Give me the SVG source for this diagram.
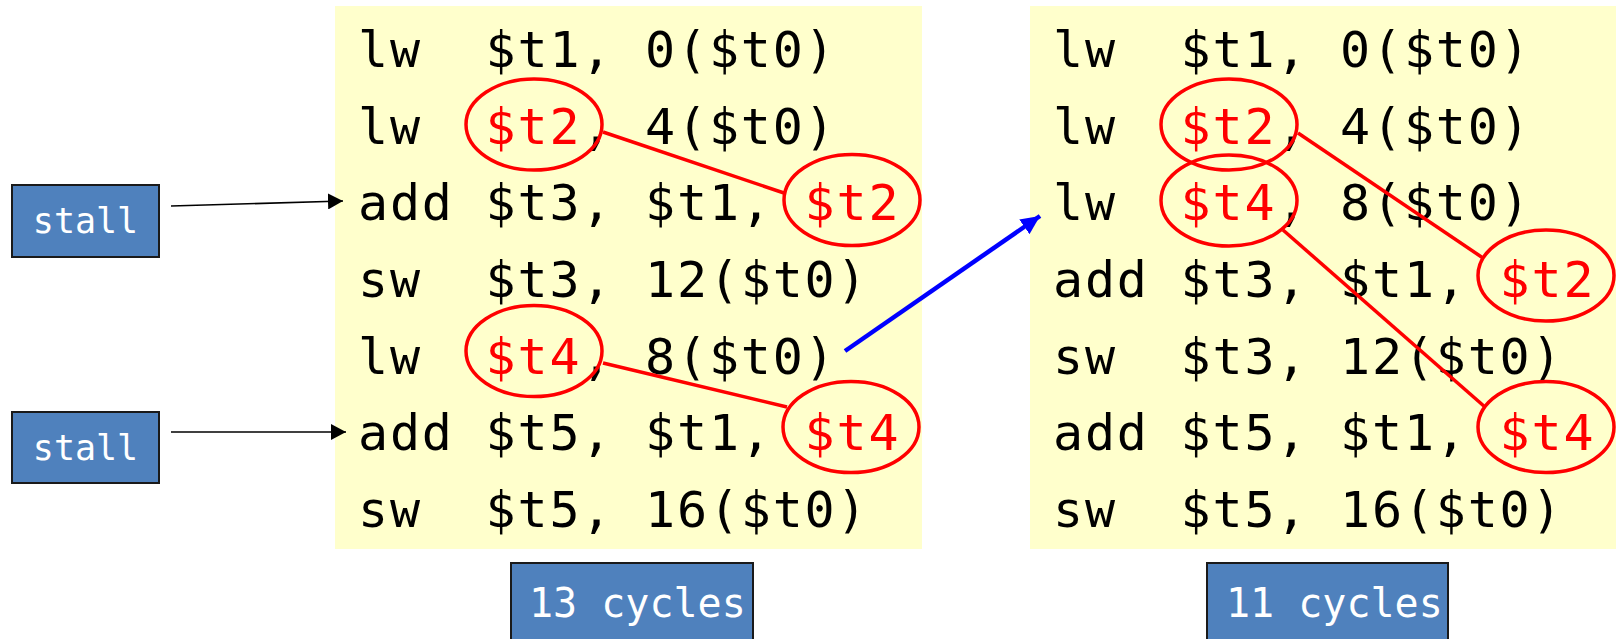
<svg xmlns="http://www.w3.org/2000/svg" width="1616" height="639" viewBox="0 0 1616 639">
  <style>
    .panel { fill: #FFFFCC; }
    .code { font-family: "DejaVu Sans Mono", "Liberation Mono", monospace; font-size: 50px; letter-spacing: 1.8px; fill: #000; }
    .reg { fill: #FF0000; }
    .ring { fill: none; stroke: #FF0000; stroke-width: 3.5; }
    .dep { stroke: #FF0000; stroke-width: 3.5; fill: none; }
    .box { fill: #4F81BD; stroke: #1A1A1A; stroke-width: 2; }
    .boxtext { font-family: "DejaVu Sans Mono", "Liberation Mono", monospace; fill: #FFFFFF; }
    .ptr { stroke: #000; stroke-width: 1.6; fill: none; }
    .move { stroke: #0000FF; stroke-width: 4.5; fill: none; }
  </style>
  <defs>
    <marker id="headBlack" markerUnits="userSpaceOnUse" markerWidth="16" markerHeight="16" refX="15" refY="8" orient="auto">
      <path d="M0,0 L15,8 L0,16 Z" fill="#000"/>
    </marker>
    <marker id="headBlue" markerUnits="userSpaceOnUse" markerWidth="20" markerHeight="18" refX="19" refY="9" orient="auto">
      <path d="M0,0 L19,9 L0,18 Z" fill="#0000FF"/>
    </marker>
  </defs>

  <!-- original schedule -->
  <g id="code-before">
    <rect class="panel" x="335" y="6" width="587" height="543"/>
    <text class="code" y="67"><tspan x="358">lw</tspan><tspan x="485.6">$t1,</tspan><tspan x="645.1">0($t0)</tspan></text>
    <text class="code" y="143.5"><tspan x="358">lw</tspan><tspan x="485.6" class="reg">$t2</tspan><tspan x="581.3">,</tspan><tspan x="645.1">4($t0)</tspan></text>
    <text class="code" y="220"><tspan x="358">add</tspan><tspan x="485.6">$t3,</tspan><tspan x="645.1">$t1,</tspan><tspan x="804.6" class="reg">$t2</tspan></text>
    <text class="code" y="297"><tspan x="358">sw</tspan><tspan x="485.6">$t3,</tspan><tspan x="645.1">12($t0)</tspan></text>
    <text class="code" y="373.5"><tspan x="358">lw</tspan><tspan x="485.6" class="reg">$t4</tspan><tspan x="581.3">,</tspan><tspan x="645.1">8($t0)</tspan></text>
    <text class="code" y="450"><tspan x="358">add</tspan><tspan x="485.6">$t5,</tspan><tspan x="645.1">$t1,</tspan><tspan x="804.6" class="reg">$t4</tspan></text>
    <text class="code" y="526.5"><tspan x="358">sw</tspan><tspan x="485.6">$t5,</tspan><tspan x="645.1">16($t0)</tspan></text>
    <ellipse class="ring" cx="534" cy="124.5" rx="68" ry="45.5"/>
    <ellipse class="ring" cx="852" cy="200" rx="68" ry="45.5"/>
    <ellipse class="ring" cx="534" cy="351" rx="68" ry="45.5"/>
    <ellipse class="ring" cx="851" cy="427" rx="68" ry="45.5"/>
  </g>

  <!-- reordered schedule -->
  <g id="code-after">
    <rect class="panel" x="1030" y="6" width="586" height="543"/>
    <text class="code" y="67"><tspan x="1053">lw</tspan><tspan x="1180.6">$t1,</tspan><tspan x="1340.1">0($t0)</tspan></text>
    <text class="code" y="143.5"><tspan x="1053">lw</tspan><tspan x="1180.6" class="reg">$t2</tspan><tspan x="1276.3">,</tspan><tspan x="1340.1">4($t0)</tspan></text>
    <text class="code" y="220"><tspan x="1053">lw</tspan><tspan x="1180.6" class="reg">$t4</tspan><tspan x="1276.3">,</tspan><tspan x="1340.1">8($t0)</tspan></text>
    <text class="code" y="297"><tspan x="1053">add</tspan><tspan x="1180.6">$t3,</tspan><tspan x="1340.1">$t1,</tspan><tspan x="1499.6" class="reg">$t2</tspan></text>
    <text class="code" y="373.5"><tspan x="1053">sw</tspan><tspan x="1180.6">$t3,</tspan><tspan x="1340.1">12($t0)</tspan></text>
    <text class="code" y="450"><tspan x="1053">add</tspan><tspan x="1180.6">$t5,</tspan><tspan x="1340.1">$t1,</tspan><tspan x="1499.6" class="reg">$t4</tspan></text>
    <text class="code" y="526.5"><tspan x="1053">sw</tspan><tspan x="1180.6">$t5,</tspan><tspan x="1340.1">16($t0)</tspan></text>
    <ellipse class="ring" cx="1229" cy="124.5" rx="68" ry="45.5"/>
    <ellipse class="ring" cx="1229" cy="200.5" rx="68" ry="45.5"/>
    <ellipse class="ring" cx="1546" cy="275.5" rx="68" ry="45.5"/>
    <ellipse class="ring" cx="1546" cy="427" rx="68" ry="45.5"/>
  </g>

  <g id="stall-1">
    <rect class="box" x="12" y="185" width="147" height="72"/>
    <text class="boxtext" x="85.5" y="233" font-size="35" text-anchor="middle">stall</text>
  </g>
  <g id="stall-2">
    <rect class="box" x="12" y="412" width="147" height="71"/>
    <text class="boxtext" x="85.5" y="460" font-size="35" text-anchor="middle">stall</text>
  </g>
  <g id="cycles-13">
    <rect class="box" x="511" y="563" width="242" height="80"/>
    <text class="boxtext" x="529" y="617" font-size="40">13 cycles</text>
  </g>
  <g id="cycles-11">
    <rect class="box" x="1207" y="563" width="241" height="80"/>
    <text class="boxtext" x="1226" y="617" font-size="40">11 cycles</text>
  </g>

  <g id="connectors">
    <!-- load-use dependencies -->
    <line class="dep" x1="603" y1="132" x2="784" y2="193"/>
    <line class="dep" x1="603" y1="363" x2="787" y2="407"/>
    <line class="dep" x1="1298" y1="133" x2="1483" y2="258"/>
    <line class="dep" x1="1283" y1="230" x2="1485" y2="407"/>
    <!-- stall pointers -->
    <line class="ptr" x1="171" y1="206" x2="343" y2="201" marker-end="url(#headBlack)"/>
    <line class="ptr" x1="171" y1="432" x2="346" y2="432" marker-end="url(#headBlack)"/>
    <!-- moved load -->
    <line class="move" x1="845" y1="351" x2="1040" y2="216" marker-end="url(#headBlue)"/>
  </g>
</svg>
